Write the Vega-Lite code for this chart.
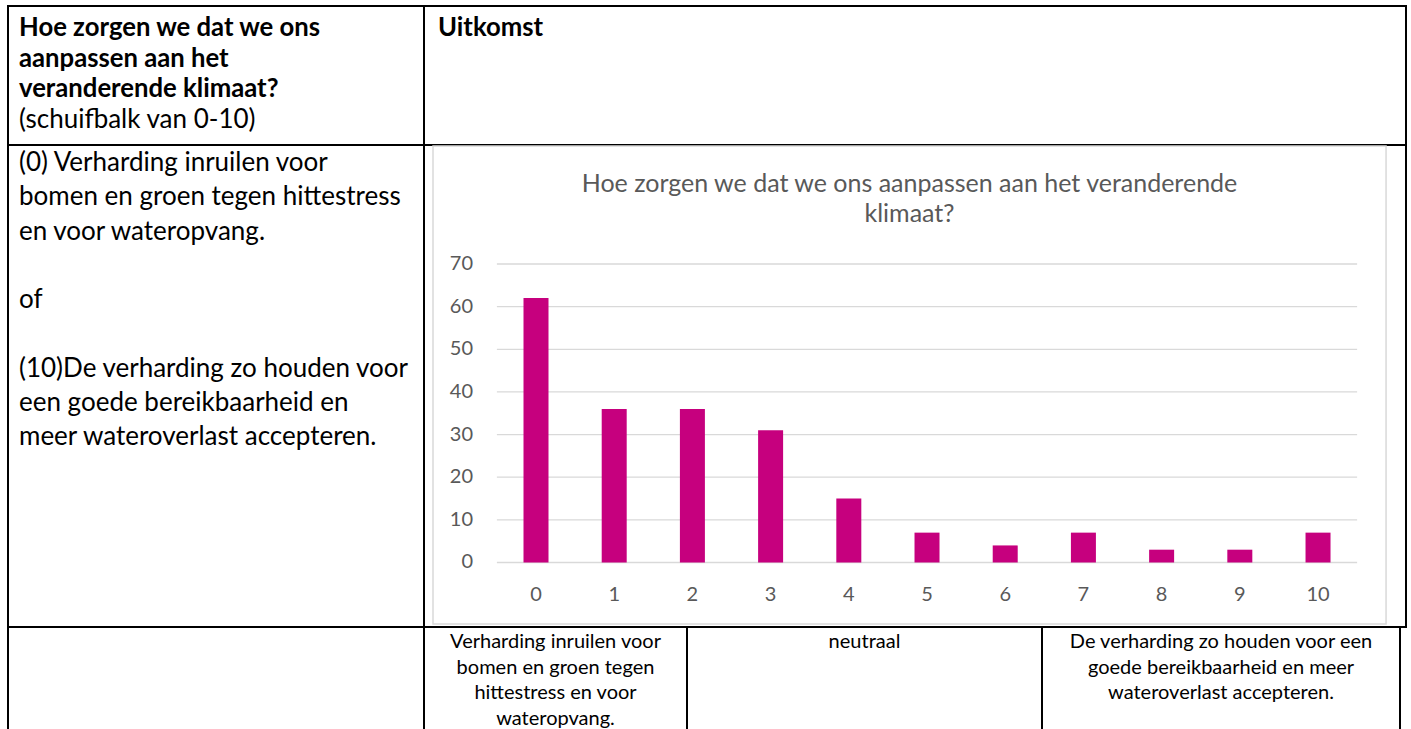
{
  "$schema": "https://vega.github.io/schema/vega-lite/v6.json",
  "padding": {"left": 7, "top": 5, "right": 0, "bottom": 0},
  "background": "white",
  "columns": 2,
  "spacing": 0,
  "bounds": "flush",
  "config": {
    "view": {"stroke": "#000000", "strokeWidth": 2},
    "concat": {"spacing": 0}
  },
  "concat": [
    {
      "width": 416,
      "height": 139,
      "encoding": {
        "x": {"datum": 0, "type": "quantitative", "scale": {"domain": [0, 1], "nice": false, "zero": false}, "axis": null},
        "y": {"field": "line", "type": "quantitative", "scale": {"domain": [-0.7166, 3.811], "reverse": true, "nice": false, "zero": false}, "axis": null},
        "text": {"field": "text"}
      },
      "layer": [
        {
          "data": {"values": [
            {"line": 0, "text": "Hoe zorgen we dat we ons"},
            {"line": 1, "text": "aanpassen aan het"},
            {"line": 2, "text": "veranderende klimaat?"}
          ]},
          "mark": {"type": "text", "align": "left", "baseline": "middle", "dx": 11, "font": "Lato", "fontSize": 25.7, "fontWeight": "bold", "color": "#000000"}
        },
        {
          "data": {"values": [
            {"line": 3, "text": "(schuifbalk van 0-10)"}
          ]},
          "mark": {"type": "text", "align": "left", "baseline": "middle", "dx": 11, "font": "Lato", "fontSize": 26, "fontWeight": "normal", "color": "#000000"}
        }
      ]
    },
    {
      "width": 982,
      "height": 139,
      "data": {"values": [{"line": 0, "text": "Uitkomst"}]},
      "mark": {"type": "text", "align": "left", "baseline": "middle", "dx": 14, "font": "Lato", "fontSize": 25.7, "fontWeight": "bold", "color": "#000000"},
      "encoding": {
        "x": {"datum": 0, "type": "quantitative", "scale": {"domain": [0, 1], "nice": false, "zero": false}, "axis": null},
        "y": {"field": "line", "type": "quantitative", "scale": {"domain": [-0.7166, 3.811], "reverse": true, "nice": false, "zero": false}, "axis": null},
        "text": {"field": "text"}
      }
    },
    {
      "width": 416,
      "height": 482,
      "data": {"values": [
        {"line": 0, "text": "(0) Verharding inruilen voor"},
        {"line": 1, "text": "bomen en groen tegen hittestress"},
        {"line": 2, "text": "en voor wateropvang."},
        {"line": 4, "text": "of"},
        {"line": 6, "text": "(10)De verharding zo houden voor"},
        {"line": 7, "text": "een goede bereikbaarheid en"},
        {"line": 8, "text": "meer wateroverlast accepteren."}
      ]},
      "mark": {"type": "text", "align": "left", "baseline": "middle", "dx": 11, "font": "Lato", "fontSize": 26, "fontWeight": "normal", "color": "#000000"},
      "encoding": {
        "x": {"datum": 0, "type": "quantitative", "scale": {"domain": [0, 1], "nice": false, "zero": false}, "axis": null},
        "y": {"field": "line", "type": "quantitative", "scale": {"domain": [-0.5255, 13.547], "reverse": true, "nice": false, "zero": false}, "axis": null},
        "text": {"field": "text"}
      }
    },
    {
      "width": 982,
      "height": 482,
      "layer": [
        {
          "data": {"values": [{}]},
          "mark": {"type": "rect", "filled": false, "color": "#D9D9D9", "strokeWidth": 1.5},
          "encoding": {
            "x": {"datum": -1.317, "type": "quantitative", "scale": {"domain": [-1.4322, 11.125], "nice": false, "zero": false, "padding": 0}, "axis": null},
            "x2": {"datum": 10.87},
            "y": {"datum": 97.67, "type": "quantitative", "scale": {"domain": [-15.13, 97.91], "nice": false, "zero": false, "padding": 0}, "axis": null},
            "y2": {"datum": -14.43}
          }
        },
        {
          "data": {"name": "ticks", "values": [
            {"tick": 0}, {"tick": 10}, {"tick": 20}, {"tick": 30},
            {"tick": 40}, {"tick": 50}, {"tick": 60}, {"tick": 70}
          ]},
          "encoding": {
            "y": {"field": "tick", "type": "quantitative", "scale": {"domain": [-15.13, 97.91], "nice": false, "zero": false, "padding": 0}, "axis": null}
          },
          "layer": [
            {
              "mark": {"type": "rule", "color": "#D9D9D9", "strokeWidth": 1.3},
              "encoding": {
                "x": {"datum": -0.5, "type": "quantitative", "scale": {"domain": [-1.4322, 11.125], "nice": false, "zero": false, "padding": 0}, "axis": null},
                "x2": {"datum": 10.5}
              }
            },
            {
              "mark": {"type": "text", "align": "right", "baseline": "middle", "font": "Lato", "fontSize": 20, "color": "#595959"},
              "encoding": {
                "x": {"datum": -0.8056, "type": "quantitative", "scale": {"domain": [-1.4322, 11.125], "nice": false, "zero": false, "padding": 0}, "axis": null},
                "text": {"field": "tick", "type": "quantitative"}
              }
            }
          ]
        },
        {
          "data": {"values": [
            {"score": 0, "count": 62},
            {"score": 1, "count": 36},
            {"score": 2, "count": 36},
            {"score": 3, "count": 31},
            {"score": 4, "count": 15},
            {"score": 5, "count": 7},
            {"score": 6, "count": 4},
            {"score": 7, "count": 7},
            {"score": 8, "count": 3},
            {"score": 9, "count": 3},
            {"score": 10, "count": 7}
          ]},
          "encoding": {
            "x": {"field": "score", "type": "quantitative", "scale": {"domain": [-1.4322, 11.125], "nice": false, "zero": false, "padding": 0}, "axis": null}
          },
          "layer": [
            {
              "mark": {"type": "bar", "width": 25, "color": "#C6007E"},
              "encoding": {
                "y": {"field": "count", "type": "quantitative", "scale": {"domain": [-15.13, 97.91], "nice": false, "zero": false, "padding": 0}, "axis": null},
                "y2": {"datum": 0}
              }
            },
            {
              "mark": {"type": "text", "align": "center", "baseline": "middle", "font": "Lato", "fontSize": 20, "color": "#595959"},
              "encoding": {
                "y": {"datum": -7.625, "type": "quantitative", "scale": {"domain": [-15.13, 97.91], "nice": false, "zero": false, "padding": 0}, "axis": null},
                "text": {"field": "score", "type": "quantitative"}
              }
            }
          ]
        },
        {
          "data": {"values": [{}]},
          "mark": {"type": "text", "align": "center", "baseline": "top", "font": "Lato", "fontSize": 25, "lineHeight": 30, "color": "#595959"},
          "encoding": {
            "x": {"datum": 4.776, "type": "quantitative", "scale": {"domain": [-1.4322, 11.125], "nice": false, "zero": false, "padding": 0}, "axis": null},
            "y": {"datum": 91.5, "type": "quantitative", "scale": {"domain": [-15.13, 97.91], "nice": false, "zero": false, "padding": 0}, "axis": null},
            "text": {"value": ["Hoe zorgen we dat we ons aanpassen aan het veranderende", "klimaat?"]}
          }
        }
      ]
    },
    {
      "width": 416,
      "height": 102,
      "view": {"stroke": null},
      "data": {"values": [{}]},
      "mark": {"type": "rule", "color": "#000000", "strokeWidth": 2},
      "encoding": {
        "x": {"datum": 0, "type": "quantitative", "scale": {"domain": [0, 1], "nice": false, "zero": false}, "axis": null}
      }
    },
    {
      "width": 976,
      "height": 102,
      "view": {"stroke": null},
      "layer": [
        {
          "data": {"values": [
            {"line": 0, "text": "Verharding inruilen voor"},
            {"line": 1, "text": "bomen en groen tegen"},
            {"line": 2, "text": "hittestress en voor"},
            {"line": 3, "text": "wateropvang."}
          ]},
          "mark": {"type": "text", "align": "center", "baseline": "middle", "font": "Lato", "fontSize": 20, "color": "#000000"},
          "encoding": {
            "x": {"datum": 0.13473, "type": "quantitative", "scale": {"domain": [0, 1], "nice": false, "zero": false}, "axis": null},
            "y": {"field": "line", "type": "quantitative", "scale": {"domain": [-0.586, 3.398], "reverse": true, "nice": false, "zero": false}, "axis": null},
            "text": {"field": "text"}
          }
        },
        {
          "data": {"values": [
            {"line": 0, "text": "neutraal"}
          ]},
          "mark": {"type": "text", "align": "center", "baseline": "middle", "font": "Lato", "fontSize": 20, "color": "#000000"},
          "encoding": {
            "x": {"datum": 0.45133, "type": "quantitative", "scale": {"domain": [0, 1], "nice": false, "zero": false}, "axis": null},
            "y": {"field": "line", "type": "quantitative", "scale": {"domain": [-0.586, 3.398], "reverse": true, "nice": false, "zero": false}, "axis": null},
            "text": {"field": "text"}
          }
        },
        {
          "data": {"values": [
            {"line": 0, "text": "De verharding zo houden voor een"},
            {"line": 1, "text": "goede bereikbaarheid en meer"},
            {"line": 2, "text": "wateroverlast accepteren."}
          ]},
          "mark": {"type": "text", "align": "center", "baseline": "middle", "font": "Lato", "fontSize": 20, "color": "#000000"},
          "encoding": {
            "x": {"datum": 0.8166, "type": "quantitative", "scale": {"domain": [0, 1], "nice": false, "zero": false}, "axis": null},
            "y": {"field": "line", "type": "quantitative", "scale": {"domain": [-0.586, 3.398], "reverse": true, "nice": false, "zero": false}, "axis": null},
            "text": {"field": "text"}
          }
        },
        {
          "data": {"values": [{}]},
          "mark": {"type": "rule", "color": "#000000", "strokeWidth": 2},
          "encoding": {"x": {"datum": 0, "type": "quantitative", "scale": {"domain": [0, 1], "nice": false, "zero": false}, "axis": null}}
        },
        {
          "data": {"values": [{}]},
          "mark": {"type": "rule", "color": "#000000", "strokeWidth": 2},
          "encoding": {"x": {"datum": 0.26947, "type": "quantitative", "scale": {"domain": [0, 1], "nice": false, "zero": false}, "axis": null}}
        },
        {
          "data": {"values": [{}]},
          "mark": {"type": "rule", "color": "#000000", "strokeWidth": 2},
          "encoding": {"x": {"datum": 0.6332, "type": "quantitative", "scale": {"domain": [0, 1], "nice": false, "zero": false}, "axis": null}}
        },
        {
          "data": {"values": [{}]},
          "mark": {"type": "rule", "color": "#000000", "strokeWidth": 2},
          "encoding": {"x": {"datum": 1, "type": "quantitative", "scale": {"domain": [0, 1], "nice": false, "zero": false}, "axis": null}}
        }
      ]
    }
  ]
}
